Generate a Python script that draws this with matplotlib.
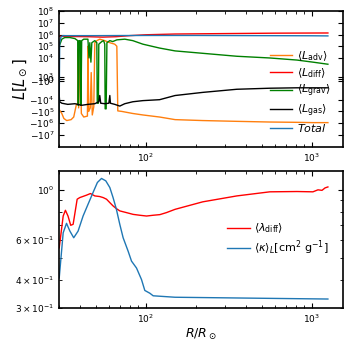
import numpy as np
import matplotlib
matplotlib.use("Agg")
import matplotlib.pyplot as plt
from matplotlib.ticker import FixedLocator, FixedFormatter, NullLocator

# ---------------- data ----------------
# top panel: luminosity components [L_sun] vs R/R_sun
R_adv = [29.9, 31.2, 32.1, 33.4, 35.5, 36.8, 38.1, 38.9, 39.1, 39.4, 40.3, 40.9, 42.3, 44.5,
         44.8, 45.3, 46.3, 46.9, 47.6, 48.6, 49.3, 50.7, 52.8, 56.6, 60.7, 65.0, 66.9, 67.8,
         71.7, 83.5, 96, 121, 150, 220, 353, 558, 813, 1014, 1248]
L_adv = [-6e4, -1.5e5, -4e5, -6e5, -5e5, -3e5, -3e4, -2e4, 6e4, -5e4, 4e4, -1.5e5, -3e5, -2.5e5,
         1e5, -1e5, -5e4, 3e3, -2e5, -4e4, 2e5, 3e5, 4e5, 3e5, 2e5, 1.5e5, 1e5, -9e4,
         -1e5, -1.5e5, -2e5, -3e5, -5e5, -6e5, -7e5, -8e5, -8.5e5, -9e5, -9e5]

R_diff = [29.9, 35, 45, 55, 66, 80, 100, 150, 300, 600, 1248]
L_diff = [7e5, 6.8e5, 6.5e5, 6e5, 6.5e5, 8e5, 9.5e5, 1.1e6, 1.2e6, 1.3e6, 1.35e6]

R_grav = [29.9, 30.1, 31.2, 32.5, 34.9, 37.4, 38.9, 39.1, 39.3, 39.6, 40.3, 40.5, 40.7, 41.1,
          42.3, 44.8, 45.5, 46.0, 46.7, 47.3, 49.3, 50.7, 51.0, 51.8, 52.1, 54.3, 55.7, 56.6,
          56.9, 57.7, 58.3, 60.7, 63.2, 66.9, 74.7, 83.5, 96, 121, 150, 220, 353, 558, 813,
          1014, 1248]
L_grav = [-1e6, 1e5, 4e5, 5.5e5, 5.5e5, 4.5e5, 3e5, -3e4, -3e4, 3e5, 3e5, -3e4, -3e4, 3e5,
          4e5, 4e5, 1e4, 2e5, 8e3, 2e5, 3e5, 2e5, -2e4, -2e4, 1.5e5, 2.5e5, 3e5, 1.5e5,
          -6e4, -6e4, 2e5, 3e5, 2.5e5, 3.5e5, 4e5, 3e5, 1.5e5, 7e4, 4e4, 2.5e4, 1.4e4, 1e4, 9e3,
          8e3, 7e3]

R_gas = [29.9, 30.3, 31.2, 33.9, 37.4, 41.1, 44.8, 49.3, 52.1, 52.8, 53.5, 56.6, 59.9, 60.7,
         61.2, 65.0, 69.7, 74.7, 83.5, 96, 121, 150, 220, 353, 558, 813, 1014, 1248]
L_gas = [-5e3, -1.5e4, -2e4, -2.5e4, -2.2e4, -3e4, -2.5e4, -2.2e4, -1.5e4, -8e3, -2e4, -2.2e4,
         -2e4, -8e3, -2e4, -2.5e4, -3.5e4, -2.2e4, -1.5e4, -1.2e4, -1e4, -8e3, -6.5e3, -5e3,
         -4.5e3, -4.3e3, -4.3e3, -4.3e3]

R_tot = [29.9, 30.1, 30.3, 30.8, 31.7, 50, 100, 200, 500, 1000, 1248]
L_tot = [-1e6, -1e4, 2e5, 6e5, 8e5, 8e5, 8.3e5, 8.3e5, 8e5, 7.8e5, 7.6e5]

# bottom panel
R_lam = [30.1, 31.8, 32.8, 34.0, 35.3, 36.5, 38.6, 40.0, 43.9, 46.4, 49.3, 52.8, 55.4, 58.0,
         60.7, 63.5, 66.5, 69.7, 76.5, 83.8, 92.0, 101, 110.7, 121.5, 133, 150, 220, 353,
         558, 813, 1014, 1087, 1150, 1200, 1248]
lam = [0.554, 0.766, 0.812, 0.766, 0.697, 0.704, 0.909, 0.924, 0.947, 0.963, 0.940, 0.934,
       0.924, 0.909, 0.878, 0.849, 0.826, 0.807, 0.793, 0.779, 0.772, 0.766, 0.772, 0.777,
       0.793, 0.82, 0.885, 0.94, 0.98, 0.983, 0.98, 1.0, 0.995, 1.02, 1.03]

R_kap = [30.1, 31.8, 33.3, 34.9, 36.8, 39.1, 41.9, 44.9, 48.1, 51.1, 54.1, 57.4, 60.7, 63.5,
         66.5, 69.7, 73.0, 78.2, 82.0, 87.9, 94.2, 98.6, 105.7, 110.7, 150, 300, 600, 1248]
kap = [0.408, 0.646, 0.711, 0.657, 0.614, 0.657, 0.766, 0.864, 0.973, 1.078, 1.123, 1.096,
       1.024, 0.924, 0.82, 0.704, 0.614, 0.536, 0.484, 0.451, 0.401, 0.359, 0.349, 0.340,
       0.335, 0.333, 0.331, 0.329]

ytick_vals = [1e8, 1e7, 1e6, 1e5, 1e4, 1e3, 0, -1e3, -1e4, -1e5, -1e6, -1e7]
ytick_labs = [r'$10^{8}$', r'$10^{7}$', r'$10^{6}$', r'$10^{5}$', r'$10^{4}$', r'$10^{3}$',
              r'$0$', r'$-10^{3}$', r'$-10^{4}$', r'$-10^{5}$', r'$-10^{6}$', r'$-10^{7}$']

# ---------------- figure ----------------
fig = plt.figure(figsize=(3.49, 3.45), dpi=100)
ax1 = fig.add_axes([0.169, 0.575, 0.814, 0.393])
ax2 = fig.add_axes([0.169, 0.107, 0.814, 0.397])

lw = 1.0
ax1.plot(R_adv, L_adv, color='#ff7f0e', lw=lw, label=r'$\langle L_{\rm adv}\rangle$')
ax1.plot(R_diff, L_diff, color='red', lw=lw, label=r'$\langle L_{\rm diff}\rangle$')
ax1.plot(R_grav, L_grav, color='green', lw=lw, label=r'$\langle L_{\rm grav}\rangle$')
ax1.plot(R_gas, L_gas, color='black', lw=lw, label=r'$\langle L_{\rm gas}\rangle$')
ax1.plot(R_tot, L_tot, color='#1f77b4', lw=lw, label=r'$Total$')

ax1.set_xscale('log')
ax1.set_yscale('symlog', linthresh=1e4, linscale=1.6)
ax1.set_ylim(-1e8, 1e8)
ax1.set_xlim(30, 1540)
ax1.yaxis.set_major_locator(FixedLocator(ytick_vals))
ax1.yaxis.set_major_formatter(FixedFormatter(ytick_labs))
ax1.yaxis.set_minor_locator(NullLocator())
ax1.set_ylabel(r'$L[L_\odot]$', fontsize=10.5, labelpad=0)
ax1.legend(loc='lower right', frameon=False, fontsize=8, handlelength=2.0,
           labelspacing=0.28, borderaxespad=0.75, handletextpad=0.4)

ax2.plot(R_lam, lam, color='red', lw=lw, label=r'$\langle\lambda_{\rm diff}\rangle$')
ax2.plot(R_kap, kap, color='#1f77b4', lw=lw, label=r'$\langle\kappa\rangle_L[{\rm cm^2\ g^{-1}}]$')
ax2.set_xscale('log')
ax2.set_yscale('log')
ax2.set_xlim(30, 1540)
ax2.set_ylim(0.3, 1.21)
ax2.set_xlabel(r'$R/R_\odot$', fontsize=9, labelpad=1)
ax2.legend(loc='center right', frameon=False, fontsize=8, handlelength=2.0,
           labelspacing=0.3, borderaxespad=0.9, handletextpad=0.4)

for ax in (ax1, ax2):
    ax.tick_params(which='both', direction='in', top=True, right=True, labelsize=6.5)
    ax.tick_params(which='major', length=3.5, width=0.8)
    ax.tick_params(which='minor', length=2, width=0.6)
    for s in ax.spines.values():
        s.set_linewidth(1.2)

fig.savefig('out.png', dpi=100)
